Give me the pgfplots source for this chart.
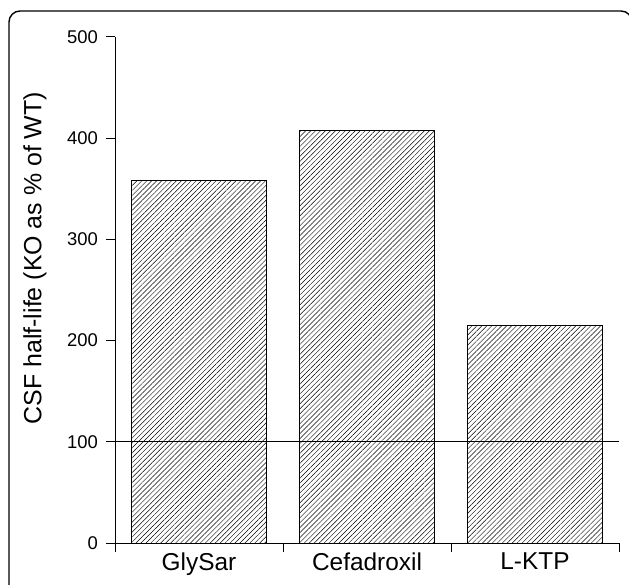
\documentclass[border=0pt]{standalone}
\usepackage{fontspec}
\setmainfont{Liberation Sans}
\usepackage{pgfplots}
\pgfplotsset{compat=1.18}
\usetikzlibrary{patterns.meta}

\begin{document}
\begin{tikzpicture}
\useasboundingbox (0,0) rectangle (629bp,585bp);
% rounded frame, cut at the right and bottom edges
\draw[line width=1.4bp, rounded corners=11bp] (9bp,-20bp) rectangle (632bp,574bp);
\begin{axis}[
    at={(115bp,42bp)}, anchor=south west,
    scale only axis,
    width=504bp, height=506bp,
    xmin=-0.5, xmax=2.5,
    ymin=0, ymax=500,
    axis x line*=bottom,
    axis y line*=left,
    axis line style={line width=1bp},
    xtick={-0.5,0.5,1.5,2.5},
    xticklabels={},
    extra x ticks={0,1,2},
    extra x tick labels={GlySar, Cefadroxil, L-KTP},
    extra x tick style={major tick length=0pt,
        xticklabel style={font=\fontsize{24.5}{26}\selectfont, yshift=-6bp}},
    ytick={0,100,200,300,400,500},
    tick align=outside,
    tick style={black, line width=1bp},
    major tick length=8.5bp,
    /pgf/number format/assume math mode=true,
    yticklabel style={font=\fontsize{18.5}{20}\selectfont, xshift=-5bp},
    ylabel={CSF half-life (KO as \% of WT)},
    ylabel style={font=\fontsize{25}{27}\selectfont, at={(axis description cs:-0.159,0.563)}, anchor=center, rotate=0},
    ybar, bar width=0.8,
    clip=false,
]
\addplot[draw=black, line width=1bp,
    pattern={Lines[angle=45, distance=3.5bp, line width=0.45bp]}]
    coordinates {(0,358) (1,408) (2,215)};
\addplot[sharp plot, black, line width=1bp] coordinates {(-0.5,100) (2.5,100)};
\end{axis}
\end{tikzpicture}
\end{document}
